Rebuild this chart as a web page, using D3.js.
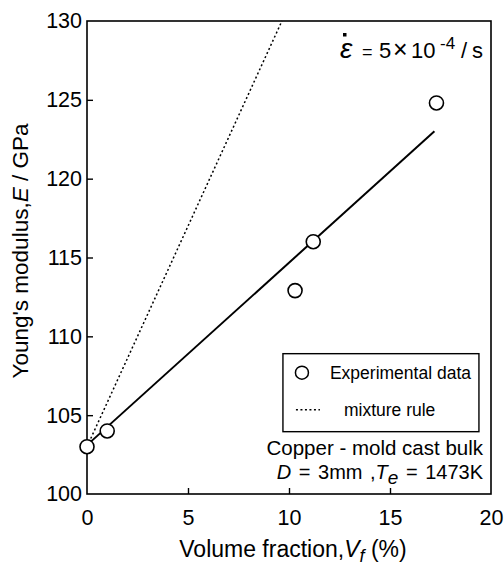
<!DOCTYPE html>
<html>
<head>
<meta charset="utf-8">
<script src="https://cdn.jsdelivr.net/npm/d3@7"></script>
<style>
  html, body { margin: 0; padding: 0; background: #fff; }
  svg { display: block; font-family: "Liberation Sans", Arial, Helvetica, sans-serif; }
</style>
</head>
<body>
<svg id="chart" width="504" height="567"></svg>
<script>
// ---- data ----
const xTicks = [0, 5, 10, 15, 20];
const yTicks = [100, 105, 110, 115, 120, 125, 130];
const expX = [0, 1.0, 10.3, 11.2, 17.3];
const expY = [103.0, 104.0, 112.9, 116.0, 124.8];
const fitX = [0, 17.2];
const fitY = [103.1, 123.0];
const mixX = [0, 9.65];
const mixY = [103.0, 130.0];

const legendLabels = ["Experimental data", "mixture rule"];

// ---- layout ----
const W = 504, H = 567;
const M = { left: 87, right: 13, top: 21, bottom: 73 };
const pw = W - M.left - M.right, ph = H - M.top - M.bottom;
const FONT = "Liberation Sans, Arial, sans-serif";

const svg = d3.select("#chart");
const g = svg.append("g").attr("transform", `translate(${M.left},${M.top})`);

const x = d3.scaleLinear().domain([0, 20]).range([0, pw]);
const y = d3.scaleLinear().domain([100, 130]).range([ph, 0]);

// frame
g.append("rect").attr("x", 0).attr("y", 0).attr("width", pw).attr("height", ph)
  .attr("fill", "none").attr("stroke", "#000").attr("stroke-width", 1.6);

// axes (inward ticks)
const xAxis = d3.axisBottom(x).tickValues(xTicks).tickSizeInner(-6).tickSizeOuter(0).tickPadding(16);
const gx = g.append("g").attr("transform", `translate(0,${ph})`).call(xAxis);
gx.select(".domain").remove();
gx.selectAll(".tick line").attr("stroke-width", 1.4)
  .attr("display", d => (d === 0 || d === 20) ? "none" : null);
gx.selectAll("text").attr("font-size", 21.5).attr("fill", "#000").attr("font-family", FONT);

const yAxis = d3.axisLeft(y).tickValues(yTicks).tickSizeInner(-6).tickSizeOuter(0).tickPadding(5);
const gy = g.append("g").call(yAxis);
gy.select(".domain").remove();
gy.selectAll(".tick line").attr("stroke-width", 1.4)
  .attr("display", d => (d === 100 || d === 130) ? "none" : null);
gy.selectAll("text").attr("font-size", 21.5).attr("fill", "#000").attr("font-family", FONT);

// lines
const line = d3.line().x(d => x(d[0])).y(d => y(d[1]));
g.append("path").datum(d3.zip(mixX, mixY)).attr("d", line)
  .attr("fill", "none").attr("stroke", "#000").attr("stroke-width", 1.5)
  .attr("stroke-dasharray", "2,2.5");
g.append("path").datum(d3.zip(fitX, fitY)).attr("d", line)
  .attr("fill", "none").attr("stroke", "#000").attr("stroke-width", 2);

// points
g.selectAll("circle.pt").data(d3.zip(expX, expY)).enter().append("circle")
  .attr("class", "pt")
  .attr("cx", d => x(d[0])).attr("cy", d => y(d[1])).attr("r", 7)
  .attr("fill", "#fff").attr("stroke", "#000").attr("stroke-width", 1.6);

// legend
const lg = g.append("g").attr("transform", `translate(${x(9.7)},${y(108.9)})`);
lg.append("rect").attr("x", 0).attr("y", 0).attr("width", 196).attr("height", 78)
  .attr("fill", "#fff").attr("stroke", "#000").attr("stroke-width", 1.4);
lg.append("circle").attr("cx", 19).attr("cy", 19).attr("r", 6.5)
  .attr("fill", "#fff").attr("stroke", "#000").attr("stroke-width", 1.5);
lg.append("line").attr("x1", 13).attr("x2", 37).attr("y1", 56).attr("y2", 56)
  .attr("stroke", "#000").attr("stroke-width", 1.5).attr("stroke-dasharray", "2,2.5");
lg.append("text").attr("x", 47).attr("y", 25).attr("font-size", 17.5).text(legendLabels[0]);
lg.append("text").attr("x", 61).attr("y", 62).attr("font-size", 17.5).text(legendLabels[1]);

// annotation: strain rate (absolute text positions)
const ann = svg.append("text").attr("y", 58).attr("font-size", 22);
ann.append("tspan").attr("x", 340).attr("font-style", "italic").attr("font-size", 28).text("ε");
ann.append("tspan").attr("x", 362).attr("font-size", 18).text("=");
ann.append("tspan").attr("x", 379).text("5");
ann.append("tspan").attr("x", 393).attr("font-size", 25).text("×");
ann.append("tspan").attr("x", 411).text("10");
ann.append("tspan").attr("x", 440).attr("dy", -9).attr("font-size", 17).text("-4");
ann.append("tspan").attr("x", 461).attr("dy", 9).text("/");
ann.append("tspan").attr("x", 472).text("s");
svg.append("rect").attr("x", 343).attr("y", 33).attr("width", 3.5).attr("height", 3.5).attr("fill", "#000");

// annotation: material
svg.append("text").attr("x", 483).attr("y", 455).attr("text-anchor", "end").attr("font-size", 20.5)
  .text("Copper - mold cast bulk");
const t2 = svg.append("text").attr("x", 483).attr("y", 479).attr("text-anchor", "end")
  .attr("font-size", 20).attr("word-spacing", 2);
t2.append("tspan").attr("font-style", "italic").text("D");
t2.append("tspan").text(" = 3mm ,");
t2.append("tspan").attr("font-style", "italic").text("T");
t2.append("tspan").attr("font-style", "italic").attr("dy", 5).attr("font-size", 19).text("e");
t2.append("tspan").attr("dy", -5).text(" = 1473K");

// axis titles
const xt = svg.append("text").attr("x", 293).attr("y", 557)
  .attr("text-anchor", "middle").attr("font-size", 23);
xt.append("tspan").text("Volume fraction,");
xt.append("tspan").attr("font-style", "italic").text("V");
xt.append("tspan").attr("font-style", "italic").attr("font-size", 18).attr("dy", 5).text("f");
xt.append("tspan").attr("dy", -5).text(" (%)");

const yt = svg.append("text").attr("transform", `translate(28,251) rotate(-90)`)
  .attr("text-anchor", "middle").attr("font-size", 22.5);
yt.append("tspan").text("Young's modulus,");
yt.append("tspan").attr("font-style", "italic").text("E");
yt.append("tspan").text(" / GPa");
</script>
</body>
</html>
